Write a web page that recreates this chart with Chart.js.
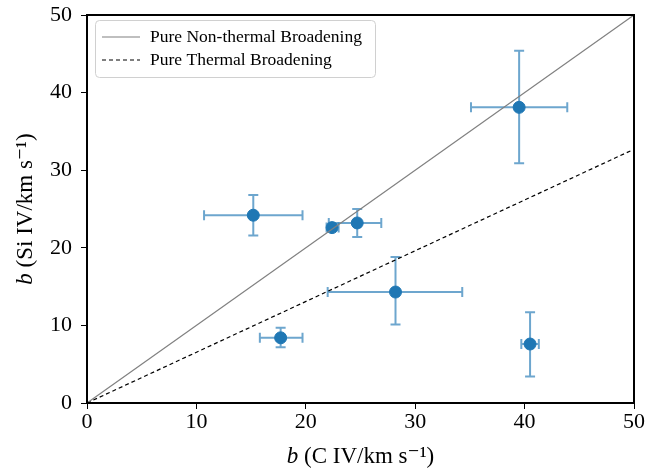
<!DOCTYPE html>
<html>
<head>
<meta charset="utf-8">
<script src="https://cdn.jsdelivr.net/npm/chart.js@4.4.1/dist/chart.umd.min.js"></script>
<style>
  html, body { margin: 0; padding: 0; background: #fff; }
  #wrap { width: 670px; height: 472px; }
</style>
</head>
<body>
<div id="wrap"><canvas id="c"></canvas></div>
<script>
// b values (km/s)
const bCIV   = [39.5, 15.2, 22.4, 24.7, 28.2, 17.7, 40.5];
const bSiIV  = [38.1, 24.2, 22.6, 23.2, 14.3,  8.4,  7.6];
const cLo    = [35.1, 10.7, 21.9, 22.1, 22.0, 15.8, 39.7];
const cHi    = [43.9, 19.7, 23.0, 26.9, 34.3, 19.7, 41.3];
const siLo   = [30.9, 21.6, 22.3, 21.4, 10.1,  7.2,  3.4];
const siHi   = [45.4, 26.8, 23.0, 25.0, 18.8,  9.7, 11.7];
// reference lines (end points)
const nonThermalLine = [[0, 0], [50, 50]];
const thermalLine    = [[0, 0], [50, 32.7]];
const tickValues = [0, 10, 20, 30, 40, 50];

const blue = '#1f77b4';
const serif = '"Liberation Serif", "DejaVu Serif", serif';

const points = bCIV.map((x, i) => ({ x: x, y: bSiIV[i] }));

// error bars + frame + titles + legend
const extras = {
  id: 'extras',
  beforeDatasetsDraw(chart) {
    const { ctx, scales: { x, y } } = chart;
    ctx.save();
    ctx.strokeStyle = 'rgba(31,119,180,0.65)';
    ctx.lineWidth = 2;
    const cap = 5;
    bCIV.forEach((cx, i) => {
      const px = x.getPixelForValue(cx), py = y.getPixelForValue(bSiIV[i]);
      const x0 = x.getPixelForValue(cLo[i]), x1 = x.getPixelForValue(cHi[i]);
      const y0 = y.getPixelForValue(siLo[i]), y1 = y.getPixelForValue(siHi[i]);
      ctx.beginPath();
      ctx.moveTo(x0, py); ctx.lineTo(x1, py);
      ctx.moveTo(x0, py - cap); ctx.lineTo(x0, py + cap);
      ctx.moveTo(x1, py - cap); ctx.lineTo(x1, py + cap);
      ctx.moveTo(px, y0); ctx.lineTo(px, y1);
      ctx.moveTo(px - cap, y0); ctx.lineTo(px + cap, y0);
      ctx.moveTo(px - cap, y1); ctx.lineTo(px + cap, y1);
      ctx.stroke();
    });
    ctx.restore();
  },
  afterDraw(chart) {
    const { ctx, chartArea: a } = chart;
    ctx.save();
    ctx.strokeStyle = '#000';
    ctx.lineWidth = 2;
    ctx.strokeRect(a.left, a.top, a.right - a.left, a.bottom - a.top);

    // axis titles with italic b
    const title = (rest, cx, cy, rot) => {
      ctx.save();
      ctx.translate(cx, cy);
      ctx.rotate(rot);
      ctx.fillStyle = '#000';
      ctx.textBaseline = 'middle';
      ctx.font = 'italic 23px ' + serif;
      const wb = ctx.measureText('b').width;
      ctx.font = '23px ' + serif;
      const wr = ctx.measureText(rest).width;
      let sx = -(wb + wr) / 2;
      ctx.font = 'italic 23px ' + serif;
      ctx.fillText('b', sx, 0);
      ctx.font = '23px ' + serif;
      ctx.fillText(rest, sx + wb, 0);
      ctx.restore();
    };
    title(' (C IV/km s\u207B\u00B9)', (a.left + a.right) / 2, 457, 0);
    title(' (Si IV/km s\u207B\u00B9)', 26, (a.top + a.bottom) / 2, -Math.PI / 2);

    // legend
    const lx = 95, ly = 20, lw = 280, lh = 57;
    ctx.fillStyle = 'rgba(255,255,255,0.8)';
    ctx.strokeStyle = '#d0d0d0';
    ctx.lineWidth = 1;
    ctx.beginPath();
    ctx.roundRect(lx + 0.5, ly + 0.5, lw, lh, 4);
    ctx.fill();
    ctx.stroke();
    const items = chart.data.datasets.filter(d => d.type === 'line');
    items.forEach((d, i) => {
      const yy = ly + 17 + i * 23;
      ctx.strokeStyle = d.borderColor;
      ctx.lineWidth = d.borderWidth;
      ctx.setLineDash(d.borderDash || []);
      ctx.beginPath();
      ctx.moveTo(lx + 7, yy); ctx.lineTo(lx + 45, yy);
      ctx.stroke();
      ctx.setLineDash([]);
      ctx.fillStyle = '#000';
      ctx.font = '17.5px ' + serif;
      ctx.textBaseline = 'middle';
      ctx.fillText(d.label, lx + 55, yy);
    });
    ctx.restore();
  }
};

new Chart(document.getElementById('c'), {
  type: 'scatter',
  data: {
    datasets: [
      {
        type: 'line',
        label: 'Pure Non-thermal Broadening',
        data: nonThermalLine.map(p => ({ x: p[0], y: p[1] })),
        borderColor: '#808080',
        borderWidth: 1.2,
        pointRadius: 0,
        fill: false
      },
      {
        type: 'line',
        label: 'Pure Thermal Broadening',
        data: thermalLine.map(p => ({ x: p[0], y: p[1] })),
        borderColor: '#000',
        borderWidth: 1.2,
        borderDash: [4, 3],
        pointRadius: 0,
        fill: false
      },
      {
        label: 'data',
        data: points,
        backgroundColor: blue,
        borderColor: blue,
        pointRadius: 6,
        pointHoverRadius: 6
      }
    ]
  },
  options: {
    responsive: true,
    maintainAspectRatio: false,
    animation: false,
    layout: { padding: { top: 15, right: 36, left: 0, bottom: 0 } },
    plugins: { legend: { display: false }, tooltip: { enabled: false } },
    scales: {
      x: {
        type: 'linear', min: 0, max: 50,
        afterBuildTicks: s => { s.ticks = tickValues.map(v => ({ value: v })); },
        afterFit: s => { s.height = 69; s.paddingLeft = 0; s.paddingRight = 0; },
        grid: { drawOnChartArea: false, drawTicks: true, tickLength: 6, color: '#000', tickWidth: 1 },
        border: { display: true, color: '#000', width: 2 },
        ticks: { color: '#000', font: { family: serif, size: 22 }, padding: 0, maxRotation: 0 }
      },
      y: {
        type: 'linear', min: 0, max: 50,
        afterBuildTicks: s => { s.ticks = tickValues.map(v => ({ value: v })); },
        afterFit: s => { s.width = 87; s.paddingTop = 0; s.paddingBottom = 0; },
        grid: { drawOnChartArea: false, drawTicks: true, tickLength: 6, color: '#000', tickWidth: 1 },
        border: { display: true, color: '#000', width: 2 },
        ticks: { color: '#000', font: { family: serif, size: 22 }, padding: 9 }
      }
    }
  },
  plugins: [extras]
});
</script>
</body>
</html>
